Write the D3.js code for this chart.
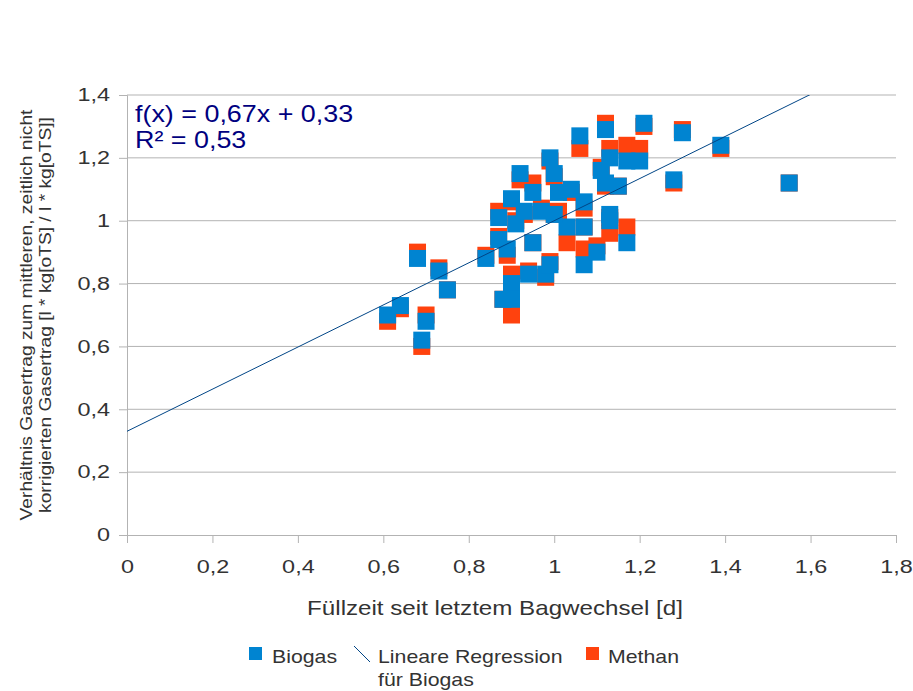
<!DOCTYPE html>
<html>
<head>
<meta charset="utf-8">
<script src="https://cdn.jsdelivr.net/npm/d3@7"></script>
<style>
  body { margin: 0; background: #fff; }
  text { font-family: "Liberation Sans", Arial, sans-serif; }
</style>
</head>
<body>
<svg id="chart" width="913" height="691"></svg>
<script>
// Füllzeit [d]
const fillTime = [
  0.61, 0.64, 0.68, 0.69, 0.70, 0.73, 0.75, 0.84, 0.87, 0.88,
  0.90, 0.90, 0.94, 0.98, 0.99, 0.89, 0.95, 0.90, 0.92, 0.99,
  0.95, 1.00, 1.01, 1.04, 1.07, 1.03, 1.07, 1.07, 1.10, 1.13,
  1.13, 1.17, 1.11, 1.12, 1.13, 1.15, 1.17, 1.20, 1.06, 1.12,
  1.21, 1.30, 1.39, 1.28, 1.55, 0.87, 0.91, 0.93, 0.97, 1.00
]
const biogas = [
  0.70, 0.73, 0.88, 0.62, 0.68, 0.84, 0.78, 0.88, 1.01, 0.75,
  0.80, 0.75, 0.83, 0.83, 0.86, 0.91, 0.93, 1.07, 1.15, 1.20,
  1.09, 1.15, 1.09, 1.10, 1.06, 0.98, 0.98, 0.86, 0.90, 1.02,
  1.00, 0.93, 1.16, 1.12, 1.20, 1.11, 1.19, 1.19, 1.27, 1.29,
  1.31, 1.28, 1.24, 1.13, 1.12, 0.94, 0.99, 1.03, 1.03, 1.02
]
const methan = [
  0.68, 0.72, 0.90, 0.60, 0.70, 0.85, 0.78, 0.89, 1.03, 0.75,
  0.83, 0.70, 0.84, 0.82, 0.87, 0.89, 0.93, 1.06, 1.13, 1.19,
  1.12, 1.14, 1.03, 1.09, 1.04, 0.93, 0.98, 0.91, 0.92, 1.01,
  0.96, 0.98, 1.17, 1.11, 1.23, 1.11, 1.24, 1.23, 1.23, 1.31,
  1.30, 1.29, 1.23, 1.12, 1.12, 0.95, 1.00, 1.02, 1.04, 1.02
]
const slope = 0.67
const intercept = 0.33
const xTicks = [0, 0.2, 0.4, 0.6, 0.8, 1, 1.2, 1.4, 1.6, 1.8]
const yTicks = [0, 0.2, 0.4, 0.6, 0.8, 1, 1.2, 1.4]

const margin = { top: 95, right: 17, bottom: 156, left: 127 }
const width = 913
const height = 691
const plotW = width - margin.left - margin.right
const plotH = height - margin.top - margin.bottom

const fmt = d => String(+d.toFixed(1)).replace(".", ",")

// the original text is a bit wider than the installed fonts, stretch it
function stretch(sel, k) {
  sel.each(function () {
    const w = this.getComputedTextLength()
    d3.select(this).attr("textLength", w * k).attr("lengthAdjust", "spacingAndGlyphs")
  })
}

const svg = d3.select("#chart")
const x = d3.scaleLinear().domain([0, 1.8]).range([margin.left, margin.left + plotW])
const y = d3.scaleLinear().domain([0, 1.4]).range([margin.top + plotH, margin.top])

// grid
svg.append("g")
  .selectAll("line")
  .data(yTicks.filter(d => d > 0))
  .enter()
  .append("line")
  .attr("x1", x(0)).attr("x2", x(1.8))
  .attr("y1", d => y(d)).attr("y2", d => y(d))
  .style("stroke", "#b3b3b3").style("stroke-width", 1)

// axes
const yAxis = svg.append("g")
  .attr("transform", `translate(${x(0)},0)`)
  .call(d3.axisLeft(y).tickValues(yTicks).tickFormat(fmt).tickSize(8).tickPadding(9))
const xAxis = svg.append("g")
  .attr("transform", `translate(0,${y(0)})`)
  .call(d3.axisBottom(x).tickValues(xTicks).tickFormat(fmt).tickSize(8).tickPadding(17))
;[xAxis, yAxis].forEach(a => {
  a.select(".domain").style("stroke", "#b3b3b3")
  a.selectAll(".tick line").style("stroke", "#b3b3b3")
  a.selectAll("text")
    .style("font-size", "18px")
    .style("fill", "#333")
    .style("font-family", "'Liberation Sans', Arial, sans-serif")
    .call(stretch, 1.3)
})

// markers
const size = 17
svg.append("clipPath").attr("id", "plotclip")
  .append("rect")
  .attr("x", x(0)).attr("y", y(1.4))
  .attr("width", plotW).attr("height", plotH)

svg.append("g")
  .selectAll("rect")
  .data(methan)
  .enter()
  .append("rect")
  .attr("x", (d, i) => x(fillTime[i]) - size / 2)
  .attr("y", d => y(d) - size / 2)
  .attr("width", size).attr("height", size)
  .style("fill", "#ff420e")

svg.append("g")
  .selectAll("rect")
  .data(biogas)
  .enter()
  .append("rect")
  .attr("x", (d, i) => x(fillTime[i]) - size / 2)
  .attr("y", d => y(d) - size / 2)
  .attr("width", size).attr("height", size)
  .style("fill", "#0084d1")

// regression line
svg.append("line")
  .attr("clip-path", "url(#plotclip)")
  .attr("x1", x(0)).attr("y1", y(intercept))
  .attr("x2", x(1.8)).attr("y2", y(slope * 1.8 + intercept))
  .style("stroke", "#004586").style("stroke-width", 1)

// equation
const eq = svg.append("text")
  .style("font-size", "24px").style("fill", "#000080")
eq.append("tspan").attr("x", 135).attr("y", 122).text("f(x) = 0,67x + 0,33")
eq.append("tspan").attr("x", 135).attr("y", 148).text("R² = 0,53")
eq.selectAll("tspan").call(stretch, 1.12)

// axis titles
svg.append("text")
  .attr("x", 495).attr("y", 615)
  .attr("text-anchor", "middle")
  .style("font-size", "21px").style("fill", "#333")
  .text("Füllzeit seit letztem Bagwechsel [d]")
  .call(stretch, 1.15)

const yt = svg.append("text")
  .attr("transform", `translate(0,${y(0.7)}) rotate(-90)`)
  .attr("text-anchor", "middle")
  .style("font-size", "16px").style("fill", "#333")
yt.append("tspan").attr("x", 0).attr("y", 32).text("Verhältnis Gasertrag zum mittleren, zeitlich nicht")
yt.append("tspan").attr("x", 0).attr("y", 51).text("korrigierten Gasertrag [l * kg[oTS] / l * kg[oTS]]")
yt.selectAll("tspan").call(stretch, 1.2)

// legend
const lg = svg.append("g").style("font-size", "19px").style("fill", "#333")
lg.append("rect").attr("x", 249).attr("y", 647).attr("width", 13).attr("height", 13).style("fill", "#0084d1")
lg.append("text").attr("x", 272).attr("y", 663).text("Biogas")
lg.append("line").attr("x1", 354).attr("y1", 646).attr("x2", 370).attr("y2", 662)
  .style("stroke", "#004586").style("stroke-width", 1)
lg.append("text").attr("x", 378).attr("y", 663).text("Lineare Regression")
lg.append("text").attr("x", 378).attr("y", 686).text("für Biogas")
lg.append("rect").attr("x", 586).attr("y", 647).attr("width", 13).attr("height", 13).style("fill", "#ff420e")
lg.append("text").attr("x", 608).attr("y", 663).text("Methan")
lg.selectAll("text").call(stretch, 1.12)
</script>
</body>
</html>
